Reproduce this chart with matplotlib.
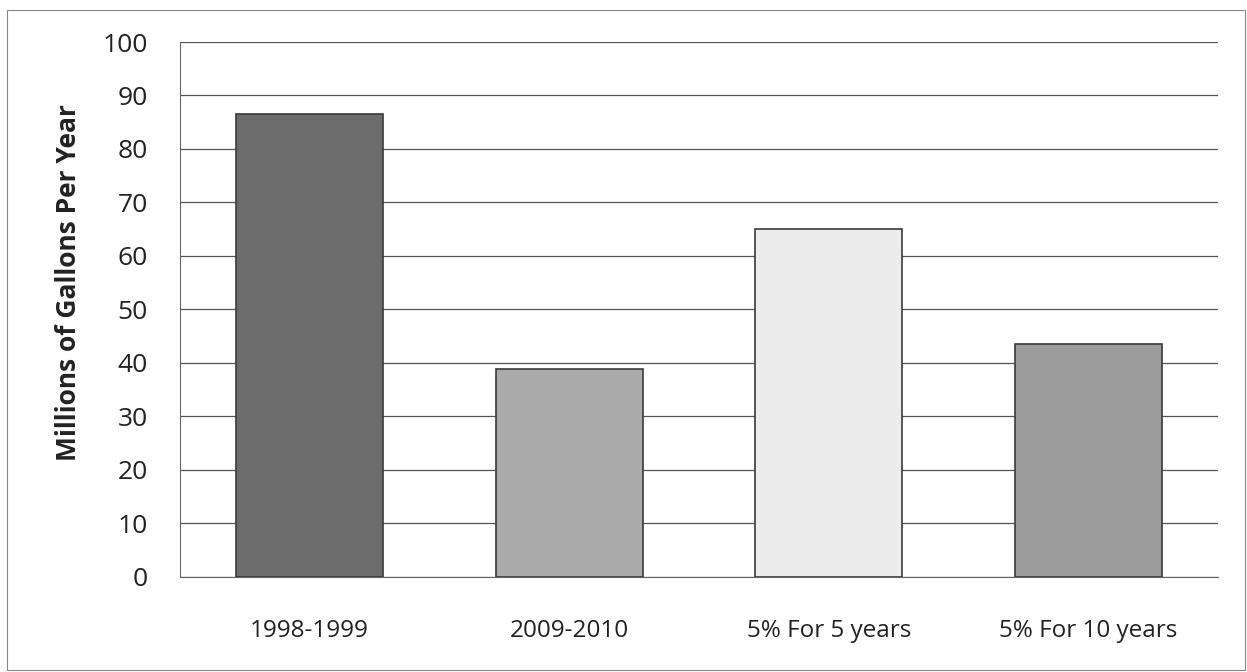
import matplotlib.pyplot as plt
from matplotlib.patches import Rectangle

# consumption per period, millions of gallons per year
periods = ["1998-1999", "2009-2010", "5% For 5 years", "5% For 10 years"]
gallons = [86.5, 38.8, 65.0, 43.6]
bar_colors = ["#6c6c6c", "#ababab", "#ececec", "#9c9c9c"]
y_ticks = list(range(0, 101, 10))

plt.rcParams['font.family'] = ['Open Sans', 'DejaVu Sans']

fig = plt.figure(figsize=(12.47, 6.72), dpi=100)
ax = fig.add_axes([0.1443, 0.1414, 0.9767 - 0.1443, 0.9375 - 0.1414])

x = list(range(len(periods)))
ax.bar(x, gallons, width=0.565, color=bar_colors, edgecolor="#3a3a3a",
       linewidth=1.2, zorder=3)

ax.set_xlim(-0.5, len(periods) - 0.5)
ax.set_ylim(0, 100)
ax.set_yticks(y_ticks)
ax.set_xticks(x)
ax.set_xticklabels(periods)
ax.tick_params(axis="both", length=0, colors="#222222")
ax.tick_params(axis="y", labelsize=19, pad=23)
ax.tick_params(axis="x", labelsize=17.5, pad=30)

ax.yaxis.grid(True, color="#555555", linewidth=0.9, zorder=0)
ax.set_axisbelow(True)
for side in ("top", "right"):
    ax.spines[side].set_visible(False)
ax.spines["left"].set_color("#666666")
ax.spines["bottom"].set_color("#666666")

ax.set_ylabel("Millions of Gallons Per Year", fontsize=19, fontweight="bold",
              color="#222222")
ax.yaxis.set_label_coords(-0.094, 0.55)

# thin frame around the whole chart
fig.patches.append(Rectangle((7 / 1247, 2 / 672), 1238 / 1247, 660 / 672,
                             transform=fig.transFigure, fill=False,
                             edgecolor="#888888", linewidth=0.8))

fig.savefig("out.png", dpi=100)
